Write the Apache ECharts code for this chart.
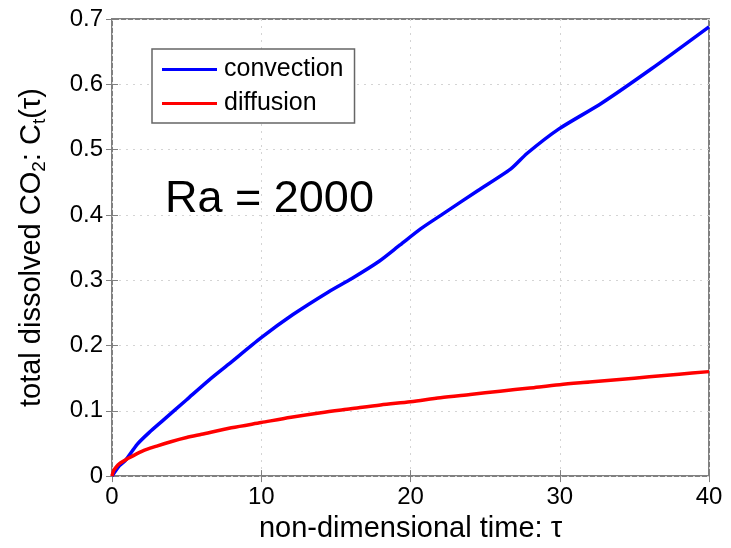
<!DOCTYPE html>
<html><head><meta charset="utf-8">
<script src="https://cdn.jsdelivr.net/npm/echarts@6/dist/echarts.min.js"></script>
<style>html,body{margin:0;padding:0;background:#fff}#c{width:731px;height:548px}</style>
</head><body><div id="c"></div>
<script>
const convTau = [0,0.5,0.9,1.7,2.5,3.4,5,6.5,7.8,10,12.1,14.5,16.1,17.9,19.3,20.7,22.2,24.5,26.7,27.8,29.9,32.8,36.1,40];
const convVal = [0,0.016,0.024,0.049,0.067,0.085,0.117,0.147,0.171,0.212,0.247,0.282,0.303,0.329,0.354,0.379,0.402,0.437,0.47,0.494,0.531,0.571,0.623,0.688];
const diffTau = [0,0.1,0.25,0.5,1,2,3,4,5,6,8,10,12,14,16,18,20,22,24,26,28,30,32,34,36,38,40];
const diffVal = [0,0.008,0.013,0.019,0.026,0.038,0.046,0.053,0.059,0.064,0.074,0.082,0.090,0.097,0.103,0.109,0.114,0.120,0.125,0.130,0.135,0.140,0.144,0.148,0.152,0.156,0.160];
const xTicks = [0,10,20,30,40];
const yTicks = [0,0.1,0.2,0.3,0.4,0.5,0.6,0.7];

const font = 'Liberation Sans, Arial, sans-serif';
const axisGray = '#808080';
const chart = echarts.init(document.getElementById('c'));
chart.setOption({
  animation:false,
  grid: {left:112, right:22, top:19, bottom:64, show:true, borderColor:axisGray, borderWidth:2, backgroundColor:'#fff'},
  title: {text:'Ra = 2000', left:165, top:177, padding:0, textStyle:{fontFamily:font, fontSize:45, fontWeight:'normal', color:'#000'}},
  legend: {
    orient:'vertical', left:152, top:49, padding:[8,11,7,10],
    borderColor:'#666', borderWidth:1.5, backgroundColor:'#fff',
    itemWidth:55, itemHeight:3, itemGap:9, icon:'rect',
    textStyle:{fontFamily:font, fontSize:25, color:'#000', padding:[0,0,0,2]},
    data:['convection','diffusion']
  },
  xAxis: [{
    type:'value', min:0, max:40, interval:10,
    name:'non-dimensional time: τ', nameLocation:'middle', nameGap:35,
    nameTextStyle:{fontFamily:font, fontSize:29, color:'#000', verticalAlign:'top'},
    axisLine:{show:false}, axisTick:{inside:true, length:6, lineStyle:{color:axisGray}},
    axisLabel:{fontFamily:font, fontSize:24, color:'#000', margin:9, formatter:v=>String(v)},
    splitLine:{show:true, lineStyle:{color:'#d4d4d4', type:[2,5]}}
  },{
    type:'value', position:'top', min:0, max:40, interval:10,
    axisLine:{show:false}, axisTick:{inside:true, length:6, lineStyle:{color:axisGray}},
    axisLabel:{show:false}, splitLine:{show:false}
  }],
  yAxis: [{
    type:'value', min:0, max:0.7, interval:0.1,
    name:'total dissolved CO{s|2}: C{s|t}(τ)', nameLocation:'middle', nameGap:63, nameRotate:90,
    nameTextStyle:{fontFamily:font, fontSize:29, color:'#000', verticalAlign:'bottom', rich:{s:{fontFamily:font, fontSize:19, color:'#000', verticalAlign:'bottom', padding:[16,0,0,0]}}},
    axisLine:{show:false}, axisTick:{inside:true, length:6, lineStyle:{color:axisGray}},
    axisLabel:{fontFamily:font, fontSize:24, color:'#000', margin:9, formatter:v=>v===0?'0':v.toFixed(1)},
    splitLine:{show:true, lineStyle:{color:'#d4d4d4', type:[2,5]}}
  },{
    type:'value', position:'right', min:0, max:0.7, interval:0.1,
    axisLine:{show:false}, axisTick:{inside:true, length:6, lineStyle:{color:axisGray}},
    axisLabel:{show:false}, splitLine:{show:false}
  }],
  series: [{
    name:'convection', type:'line', showSymbol:false, smooth:0.25,
    data: convTau.map((t,i)=>[t, convVal[i]]),
    lineStyle:{color:'#0000ff', width:3.5}, itemStyle:{color:'#0000ff'}
  },{
    name:'diffusion', type:'line', showSymbol:false, smooth:0.3,
    data: diffTau.map((t,i)=>[t, diffVal[i]]),
    lineStyle:{color:'#ff0000', width:3.5}, itemStyle:{color:'#ff0000'}
  }]
});
</script></body></html>
